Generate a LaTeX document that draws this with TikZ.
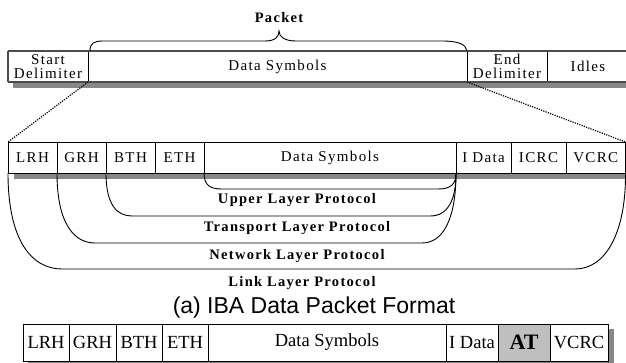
\documentclass[tikz,border=0pt]{standalone}
\usepackage{fontspec}
\setmainfont{Liberation Serif}
\newfontfamily\spc[LetterSpace=9]{Liberation Serif}
\newfontfamily\capfont{Liberation Sans}
\begin{document}
\begin{tikzpicture}[x=1pt,y=-1pt,
  frame/.style={draw=black,line width=0.9pt,inner sep=0pt,outer sep=0pt,anchor=north west,
    font=\spc\fontsize{15}{14}\selectfont,align=center},
  topcell/.style={frame,minimum height=31pt},
  midcell/.style={frame,minimum height=31pt},
  lowcell/.style={draw=black,line width=0.9pt,fill=white,inner sep=0pt,outer sep=0pt,anchor=north west,
    minimum height=37pt,font=\fontsize{18.5}{20}\selectfont},
  shade/.style={fill=black!47,draw=none},
  rim/.style={draw=black!70,line width=1.8pt},
  bracket/.style={draw=black,line width=0.9pt},
  zoomline/.style={draw=black,line width=1.2pt,dash pattern=on 1.2pt off 1.2pt},
  layer/.style={font=\spc\bfseries\fontsize{14.5}{14}\selectfont},
]
\useasboundingbox (0,0) rectangle (626,362);

% ---- packet on the wire ----
\fill[shade] (13,82) rectangle (628,88);
\node[topcell,minimum width=80pt]  (start) at (8,51)   {Start\\Delimiter};
\node[topcell,minimum width=379pt] (wire)  at (88,51)  {Data Symbols};
\node[topcell,minimum width=80pt]  (endd)  at (467,51) {End\\Delimiter};
\node[topcell,minimum width=82pt]  (idle)  at (547,51) {Idles};
\draw[rim] (start.north west) -- (idle.north east);
\draw[rim] (start.south west) -- (idle.south east);
\draw[rim] (start.north west) -- (start.south west);

% brace over the packet
\draw[bracket] (wire.north west) ++(2,0) .. controls +(0,-8) and +(-9,0) .. ++(13,-10)
  -- (265,41) .. controls (275,41) and (279,37) .. (279,31)
  .. controls (279,37) and (285,41) .. (296,41) -- (442,41)
  .. controls (460,41) and (466,45) .. (wire.north east);
\node[font=\spc\bfseries\fontsize{14.5}{14}\selectfont] (packet) at (279,18) {Packet};

% ---- data packet fields ----
\fill[shade] (14,173) rectangle (628,179);
\node[midcell,minimum width=49pt]  (lrh)  at (8,142)   {LRH};
\node[midcell,minimum width=49pt]  (grh)  at (57,142)  {GRH};
\node[midcell,minimum width=49pt]  (bth)  at (106,142) {BTH};
\node[midcell,minimum width=49pt]  (eth)  at (155,142) {ETH};
\node[midcell,minimum width=252pt] (data) at (204,142) {Data Symbols};
\node[midcell,minimum width=55pt]  (idat) at (456,142) {I Data};
\node[midcell,minimum width=55pt]  (icrc) at (511,142) {ICRC};
\node[midcell,minimum width=59.5pt](vcrc) at (566,142) {VCRC};

% zoom from the wire packet to the fields
\draw[zoomline] (start.south east) -- (lrh.north west);
\draw[zoomline] (endd.south west) -- (vcrc.north east);

% protocol coverage brackets
\draw[bracket] (eth.south east) .. controls +(0,13) and +(-11,0) .. (222,189) -- (438,189)
  .. controls (451,189) and (456,184) .. (idat.south west);
\draw[bracket] (bth.south west) .. controls +(0,32) and +(-15,0) .. (132,216) -- (430,216)
  .. controls (448,216) and (456,200) .. (idat.south west);
\draw[bracket] (grh.south west) .. controls +(0,52) and +(-20,0) .. (95,243) -- (422,243)
  .. controls (445,243) and (456,215) .. (idat.south west);
\draw[bracket] (lrh.south west) .. controls +(0,68) and +(-30,0) .. (62,269) -- (575,269)
  .. controls (606,269) and (626,232) .. (vcrc.south east);

\node[layer] (upper) at (297,200) {Upper Layer Protocol};
\node[layer] (trans) at (297,228) {Transport Layer Protocol};
\node[layer] (netw)  at (297,256) {Network Layer Protocol};
\node[layer] (link)  at (302,283) {Link Layer Protocol};

\node[font=\capfont\fontsize{23}{25}\selectfont,anchor=base] (caption) at (314,313) {(a) IBA Data Packet Format};

% ---- packet with the AT field ----
\fill[shade] (28,329) rectangle (614,368);
\node[lowcell,minimum width=46pt]  (lrh2)  at (23,324)  {LRH};
\node[lowcell,minimum width=47pt]  (grh2)  at (69,324)  {GRH};
\node[lowcell,minimum width=46pt]  (bth2)  at (116,324) {BTH};
\node[lowcell,minimum width=46pt]  (eth2)  at (162,324) {ETH};
\node[lowcell,minimum width=238pt] (data2) at (208,324) {Data Symbols};
\node[lowcell,minimum width=52pt]  (idat2) at (446,324) {I Data};
\node[lowcell,minimum width=52pt,fill=black!25,font=\bfseries\fontsize{22}{22}\selectfont] (at2) at (498,324) {AT};
\node[lowcell,minimum width=58pt]  (vcrc2) at (550,324) {VCRC};
\end{tikzpicture}
\end{document}
